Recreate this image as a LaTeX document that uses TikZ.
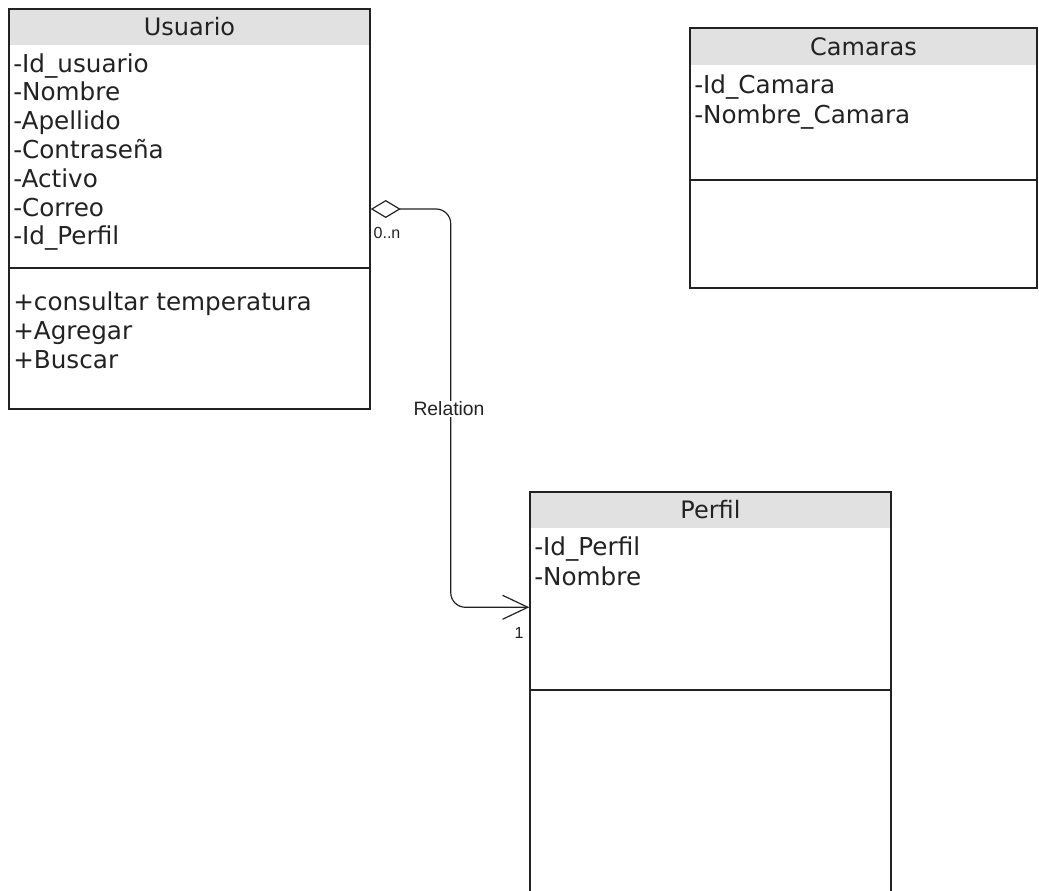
\documentclass[tikz,border=0pt]{standalone}
\usepackage{fontspec}
\setmainfont{DejaVu Sans}
\newfontfamily\labelfont{Liberation Sans}
\usetikzlibrary{arrows.meta, calc, fit}

\definecolor{headgray}{HTML}{E1E1E1}
\definecolor{inkgray}{HTML}{222222}

\tikzset{
  classbox/.style={draw=inkgray, line width=1.1pt, inner sep=0pt},
  headfill/.style={fill=headgray},
  divider/.style={draw=inkgray, line width=1.8pt},
  classname/.style={anchor=base, inner sep=0pt, text=inkgray, font=\fontsize{18}{21}\selectfont},
  member/.style={anchor=base west, inner sep=0pt, text=inkgray, font=\fontsize{18.5}{21}\selectfont},
  smalllabel/.style={inner sep=1pt, text=inkgray, font=\labelfont\fontsize{14.5}{17}\selectfont},
  relation/.style={draw=inkgray, line width=0.9pt, rounded corners=11pt}
}

\begin{document}
\begin{tikzpicture}[x=0.75pt, y=-0.75pt]
  \useasboundingbox (0,0) rectangle (1039,890);
  \clip (0,0) rectangle (1039,890);

  \fill[headfill] (9,9) rectangle (370,45);
  \node[classbox, fit={(9,9) (370,409)}] (usuario) {};
  \draw[divider] (usuario.west |- 0,268) -- (usuario.east |- 0,268);
  \node[classname] (usuario-name) at (189.5,35) {Usuario};
  \foreach \txt [count=\i] in {-Id\_usuario, -Nombre, -Apellido, -Contraseña, -Activo, -Correo, -Id\_Perfil}
    \node[member] (usuario-a\i) at (13,{72+(\i-1)*28.8}) {\txt};
  \foreach \txt [count=\i] in {+consultar temperatura, +Agregar, +Buscar}
    \node[member] (usuario-m\i) at (13,{310+(\i-1)*29}) {\txt};

  \fill[headfill] (690,28) rectangle (1037,65);
  \node[classbox, fit={(690,28) (1037,288)}] (camaras) {};
  \draw[divider] (camaras.west |- 0,180) -- (camaras.east |- 0,180);
  \node[classname] (camaras-name) at (863.5,55) {Camaras};
  \foreach \txt [count=\i] in {-Id\_Camara, -Nombre\_Camara}
    \node[member] (camaras-a\i) at (694,{93+(\i-1)*30}) {\txt};

  \fill[headfill] (530,492) rectangle (891,528);
  \node[classbox, fit={(530,492) (891,900)}] (perfil) {};
  \draw[divider] (perfil.west |- 0,690) -- (perfil.east |- 0,690);
  \node[classname] (perfil-name) at (710.5,518) {Perfil};
  \foreach \txt [count=\i] in {-Id\_Perfil, -Nombre}
    \node[member] (perfil-a\i) at (534,{555+(\i-1)*30}) {\txt};

  \coordinate (perfil-in) at ($(perfil.north west)+(0,116)$);
  \draw[relation, {Diamond[open, length=22.5pt, width=13.5pt]}-{Straight Barb[length=19pt, width=18pt]}]
    (usuario.east) -- ++(80,0) |- (perfil-in);

  \node[smalllabel, font=\labelfont\fontsize{12}{14}\selectfont] (mult-usuario) at (387,233) {0..n};
  \node[smalllabel, fill=white] (rel-name) at (449,409) {Relation};
  \node[smalllabel, font=\labelfont\fontsize{12}{14}\selectfont] (mult-perfil) at (519,633) {1};
\end{tikzpicture}
\end{document}
